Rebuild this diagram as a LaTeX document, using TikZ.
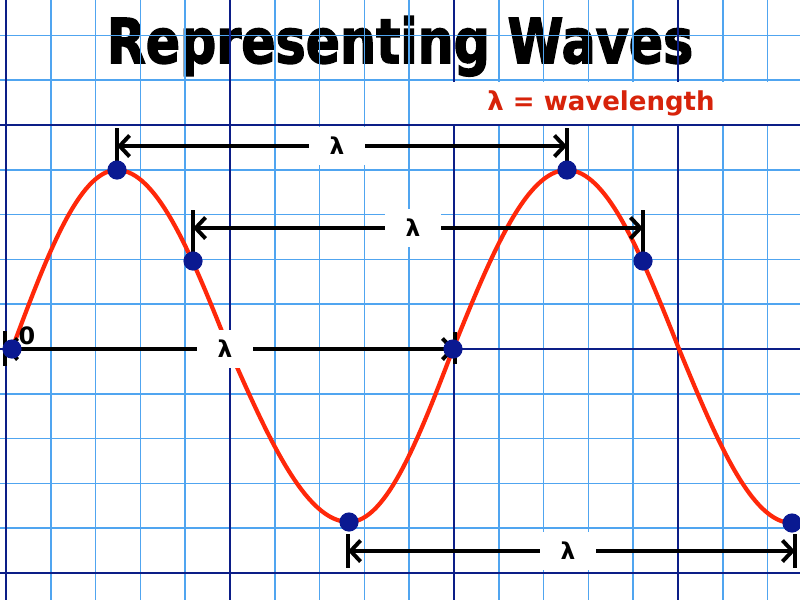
\documentclass[tikz,border=0pt]{standalone}
\usepackage{fontspec}
\usepackage{graphicx}
\usetikzlibrary{arrows.meta}
\setmainfont{DejaVu Sans}
\newfontfamily\titlefont{DejaVu Sans}[BoldFeatures={FakeBold=2.5}]
\definecolor{gridblue}{RGB}{80,165,240}
\definecolor{navy}{RGB}{12,30,135}
\definecolor{dotblue}{RGB}{10,25,145}
\definecolor{wavered}{RGB}{255,40,10}
\definecolor{labelred}{RGB}{215,35,10}
\tikzstyle{minorline}=[draw=gridblue,line width=1.2pt]
\tikzstyle{majorline}=[draw=navy,line width=2pt]
\tikzstyle{wave}=[draw=wavered,line width=3pt]
\tikzstyle{wavedot}=[circle,fill=dotblue,inner sep=0pt,minimum size=0.48cm]
\tikzstyle{lamarrow}=[draw=black,line width=2.8pt,{Straight Barb[length=7pt,width=15pt]}-{Straight Barb[length=7pt,width=15pt]}]
\tikzstyle{tickline}=[draw=black,line width=2.8pt]
\tikzstyle{lamlabel}=[fill=white,minimum width=1.4cm,minimum height=0.95cm,font=\bfseries\fontsize{16.5}{18}\selectfont]

\begin{document}
\begin{tikzpicture}[x=0.025cm,y=-0.025cm]
    \useasboundingbox (0,0) rectangle (800,600);
    \clip (0,0) rectangle (800,600);
    % title sits under the grid
    \node[anchor=base,inner sep=0pt] (title) at (400,63)
        {\scalebox{1}[1.22]{\titlefont\fontsize{36}{40}\selectfont\bfseries Representing Waves}};
    % grid
    \foreach \k in {0,...,17}
        \draw[minorline] (6+44.8*\k,0) -- (6+44.8*\k,600);
    \foreach \k in {-3,...,10}
        \draw[minorline] (0,125+44.8*\k) -- (800,125+44.8*\k);
    \foreach \x in {6,230,454,678}
        \draw[majorline] (\x,0) -- (\x,600);
    \foreach \y in {125,349,573}
        \draw[majorline] (0,\y) -- (800,\y);
    % key
    \fill[white] (415,82) rectangle (800,124);
    \node[text=labelred,font=\bfseries\fontsize{18.5}{20}\selectfont] (key) at (601,103) {λ = wavelength};
    % points on the wave
    \coordinate (c1) at (12,349);
    \coordinate (c2) at (117,170);
    \coordinate (c3) at (193,261);
    \coordinate (z1) at (229,349);
    \coordinate (c4) at (349,522);
    \coordinate (c5) at (453,349);
    \coordinate (c6) at (567,170);
    \coordinate (c7) at (643,261);
    \coordinate (z2) at (679,349);
    \coordinate (c8) at (792,523);
    \draw[wave] (c1) .. controls (46.2,257.3) and (79,170) .. (c2)
        .. controls (157.5,170) and (192.5,257.3) .. (z1)
        .. controls (268.1,437.6) and (305.6,522) .. (c4)
        .. controls (386.6,522) and (419.1,437.6) .. (c5)
        .. controls (490.2,257.3) and (525.7,170) .. (c6)
        .. controls (607.5,170) and (642.5,257.3) .. (z2)
        .. controls (715.8,438.1) and (751.1,523) .. (c8);
    % wavelength arrows
    \coordinate (a1l) at (117,146);
    \coordinate (a1r) at (567,146);
    \coordinate (a2l) at (193,228);
    \coordinate (a2r) at (643,228);
    \coordinate (a3l) at (5,349);
    \coordinate (a3r) at (455,349);
    \coordinate (a4l) at (348,551);
    \coordinate (a4r) at (795,551);
    \draw[lamarrow] (a1l) -- (a1r);
    \draw[lamarrow] (a2l) -- (a2r);
    \draw[lamarrow] (a3l) -- (a3r);
    \draw[lamarrow] (a4l) -- (a4r);
    \draw[tickline] (c2) -- ++(0,-42);
    \draw[tickline] (c6) -- ++(0,-42);
    \draw[tickline] (c3) -- ++(0,-51);
    \draw[tickline] (c7) -- ++(0,-51);
    \draw[tickline] (a3l) ++(0,-18) -- ++(0,35);
    \draw[tickline] (a3r) ++(0,-17) -- ++(0,32);
    \draw[tickline] (a4l) ++(0,-17) -- ++(0,34);
    \draw[tickline] (a4r) ++(0,-17) -- ++(0,34);
    \node[lamlabel] (l1) at (337,146) {λ};
    \node[lamlabel] (l2) at (413,228) {λ};
    \node[lamlabel] (l3) at (225,349) {λ};
    \node[lamlabel] (l4) at (568,551) {λ};
    % dots
    \foreach \p in {c1,c2,c3,c4,c5,c6,c7,c8}
        \node[wavedot] (d\p) at (\p) {};
    \node[inner sep=0pt,font=\bfseries\fontsize{17}{19}\selectfont] (zero) at (27,336) {0};
\end{tikzpicture}
\end{document}
